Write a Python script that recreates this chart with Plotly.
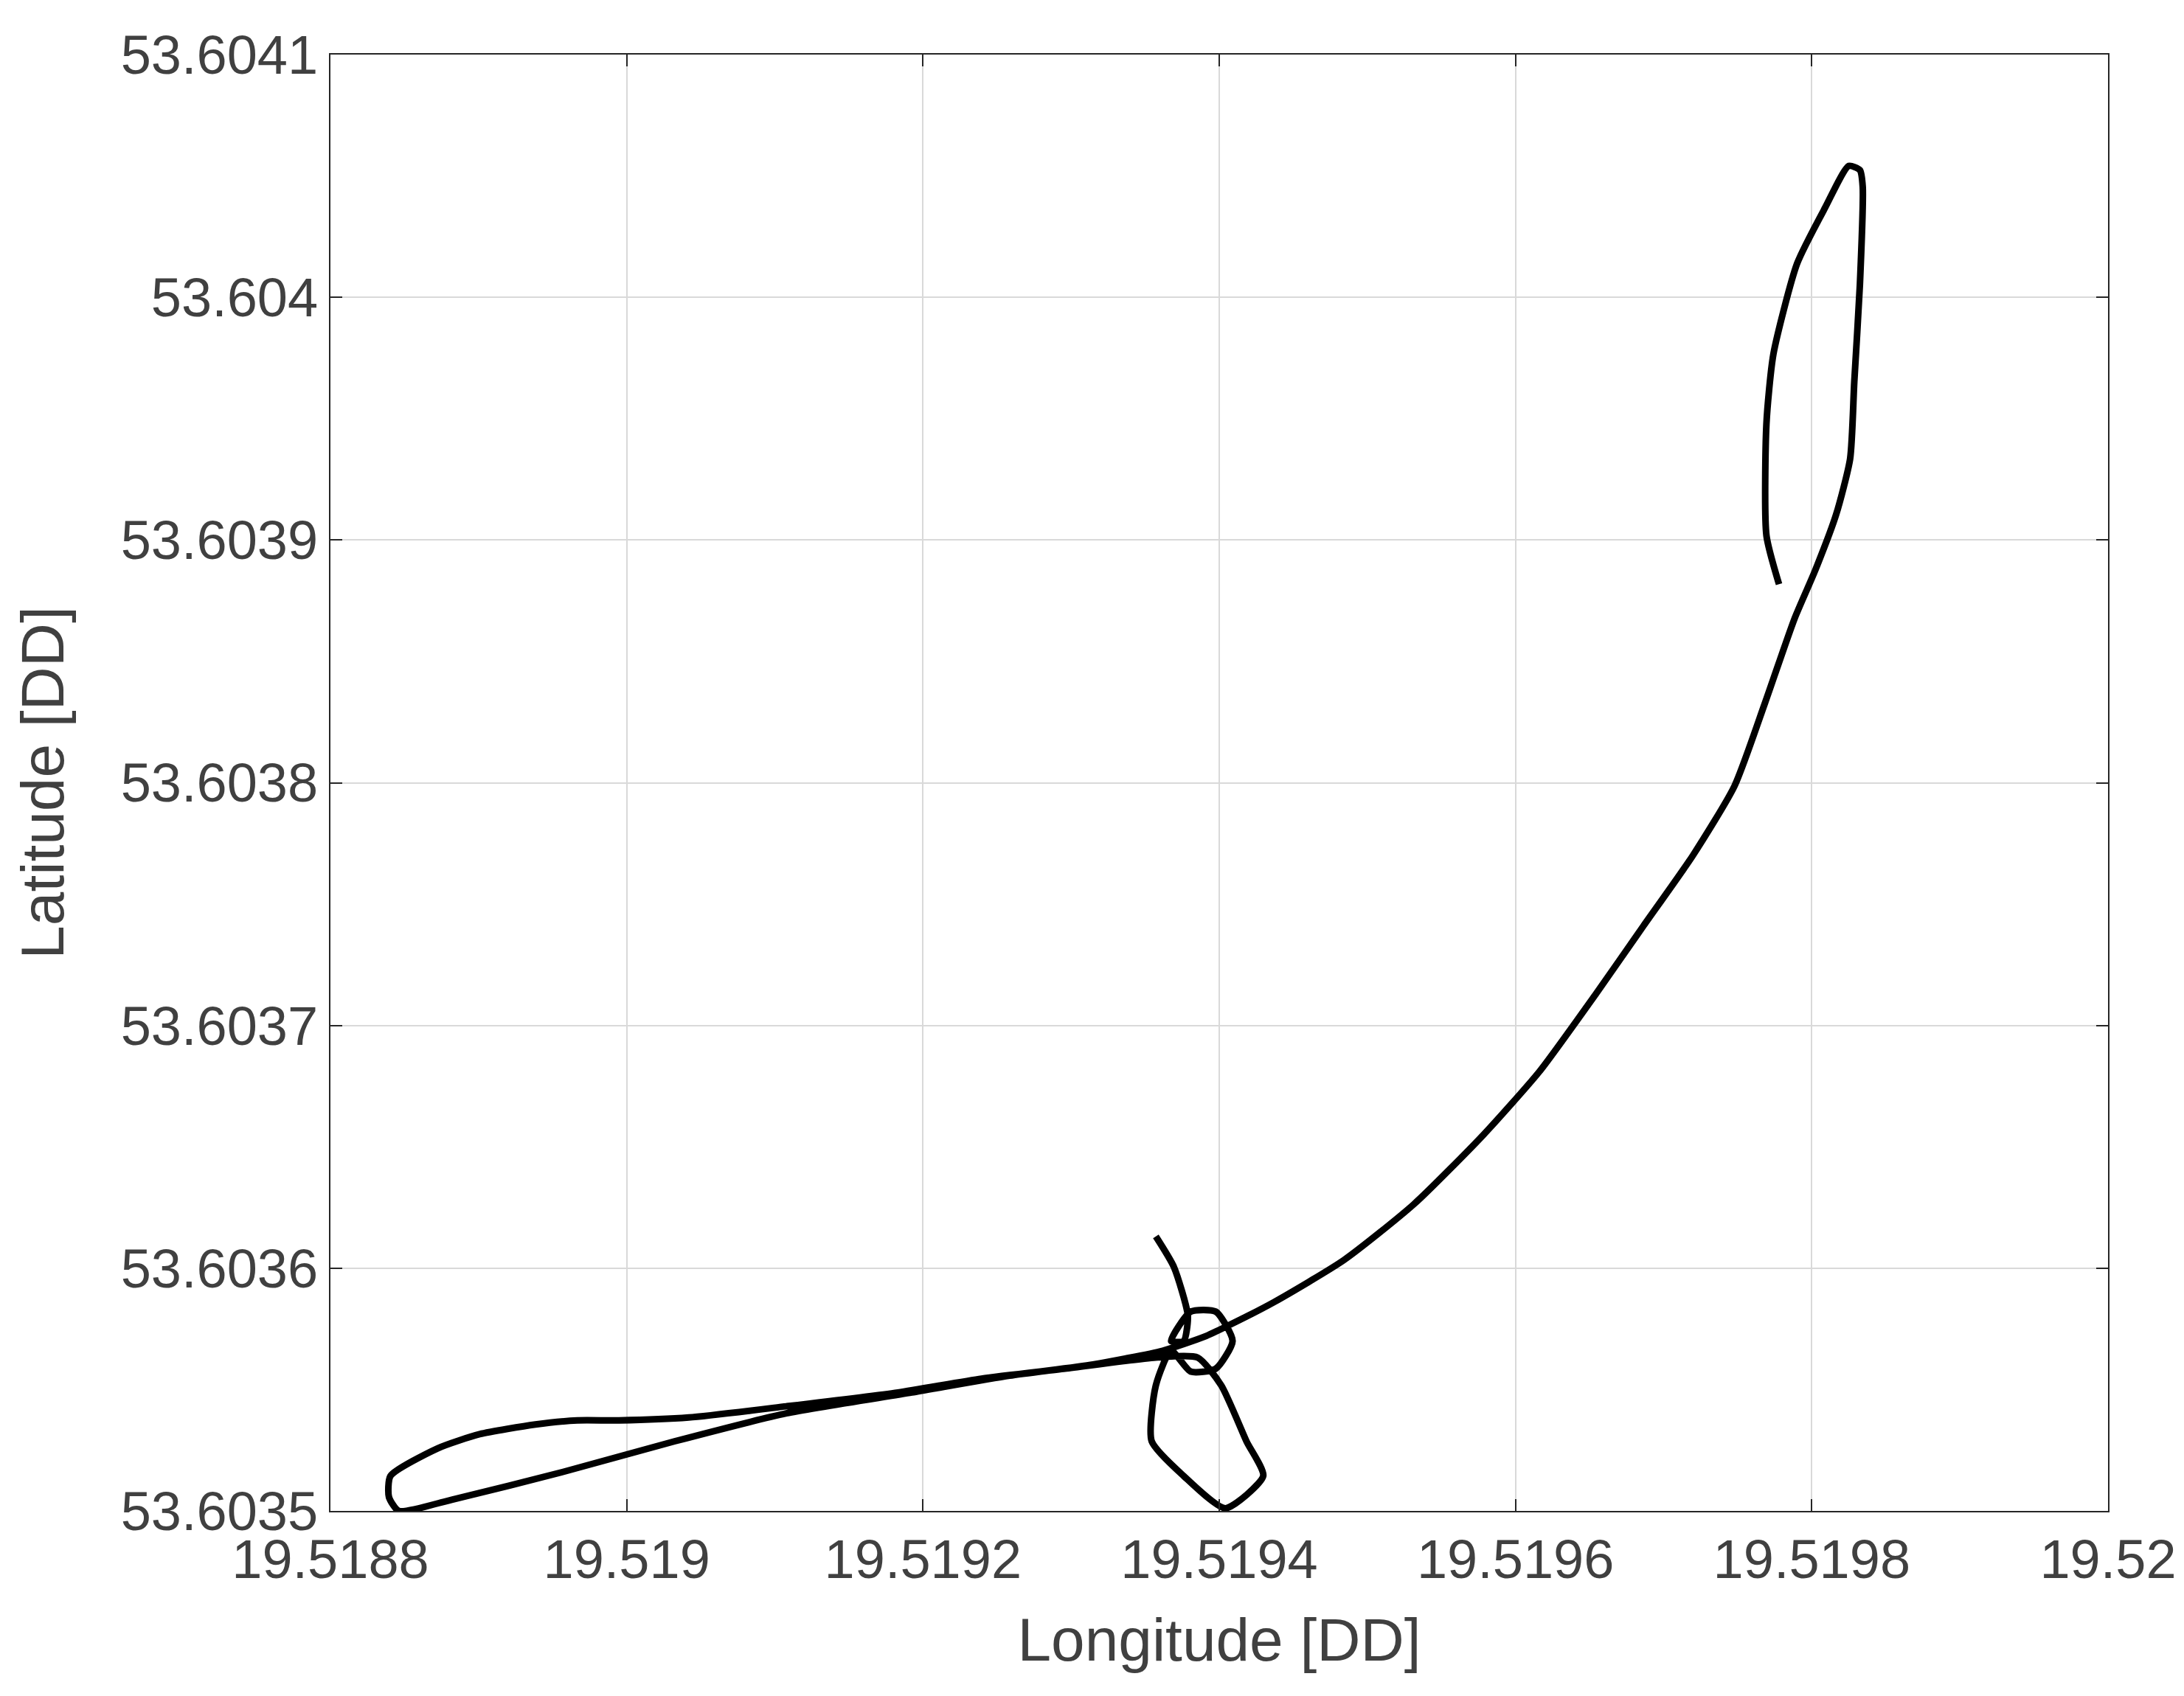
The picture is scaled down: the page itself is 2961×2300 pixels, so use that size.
import numpy as np
import plotly.graph_objects as go

# track offsets, in units of 1e-4 degrees from the base corner
lon_base = 19.5188
lat_base = 53.6035
lon_e4 = [5.572, 5.694, 5.788, 5.760, 5.675, 5.807, 5.977, 6.090, 5.977, 5.807, 5.675,
          5.572, 5.544, 5.760, 6.042, 6.297, 6.184, 6.014, 5.854,
          5.572, 4.960, 4.395, 3.831, 3.078, 2.419, 1.948, 1.666, 1.384, 1.007, 0.725, 0.405, 0.395, 0.461,
          0.819, 1.572, 2.325, 3.078, 3.925, 4.584, 5.148, 5.619, 5.901, 6.042,
          6.372, 6.843, 7.313, 7.784, 8.160, 8.537, 8.866, 9.196, 9.478, 9.685, 9.883, 10.024, 10.165,
          10.259, 10.287, 10.325, 10.344, 10.325, 10.250, 10.090, 9.901, 9.741, 9.694, 9.694, 9.779]
lat_e4 = [1.131, 1.005, 0.804, 0.700, 0.700, 0.821, 0.821, 0.700, 0.586, 0.574, 0.660,
          0.517, 0.287, 0.144, 0.011, 0.144, 0.287, 0.517, 0.632,
          0.632, 0.586, 0.545, 0.488, 0.431, 0.385, 0.373, 0.373, 0.356, 0.316, 0.258, 0.144, 0.057, 0.000,
          0.046, 0.161, 0.287, 0.402, 0.488, 0.557, 0.603, 0.660, 0.718, 0.758,
          0.861, 1.034, 1.263, 1.550, 1.809, 2.125, 2.412, 2.699, 2.986, 3.330, 3.675, 3.876, 4.106,
          4.335, 4.651, 5.053, 5.455, 5.524, 5.541, 5.369, 5.139, 4.766, 4.479, 4.019, 3.818]

x_ticks = [19.5188, 19.519, 19.5192, 19.5194, 19.5196, 19.5198, 19.52]
y_ticks = [53.6035, 53.6036, 53.6037, 53.6038, 53.6039, 53.604, 53.6041]

lon = lon_base + np.array(lon_e4) * 1e-4
lat = lat_base + np.array(lat_e4) * 1e-4

fig = go.Figure()
fig.add_trace(go.Scatter(x=lon, y=lat, mode="lines",
                         line=dict(color="black", width=9, shape="spline", smoothing=0.6),
                         showlegend=False))

txt = "#404040"
axis_style = dict(showgrid=True, gridcolor="#d9d9d9", gridwidth=2,
                  showline=True, linecolor="#262626", linewidth=2, mirror="ticks",
                  ticks="inside", ticklen=16, tickwidth=2, tickcolor="#262626",
                  zeroline=False, tickfont=dict(size=74, color=txt),
                  title_font=dict(size=82, color=txt))

fig.update_xaxes(range=[19.5188, 19.52], tickvals=x_ticks,
                 ticktext=[str(v) for v in x_ticks], title_text="Longitude [DD]",
                 title_standoff=40, **axis_style)
fig.update_yaxes(range=[53.6035, 53.6041], tickvals=y_ticks,
                 ticktext=[str(v) for v in y_ticks], title_text="Latitude [DD]",
                 title_standoff=50, **axis_style)

fig.update_layout(width=2961, height=2300,
                  margin=dict(l=440, r=111, t=66, b=259),
                  plot_bgcolor="white", paper_bgcolor="white",
                  font=dict(family="Liberation Sans, Arial"))

fig.write_html("out.html")
